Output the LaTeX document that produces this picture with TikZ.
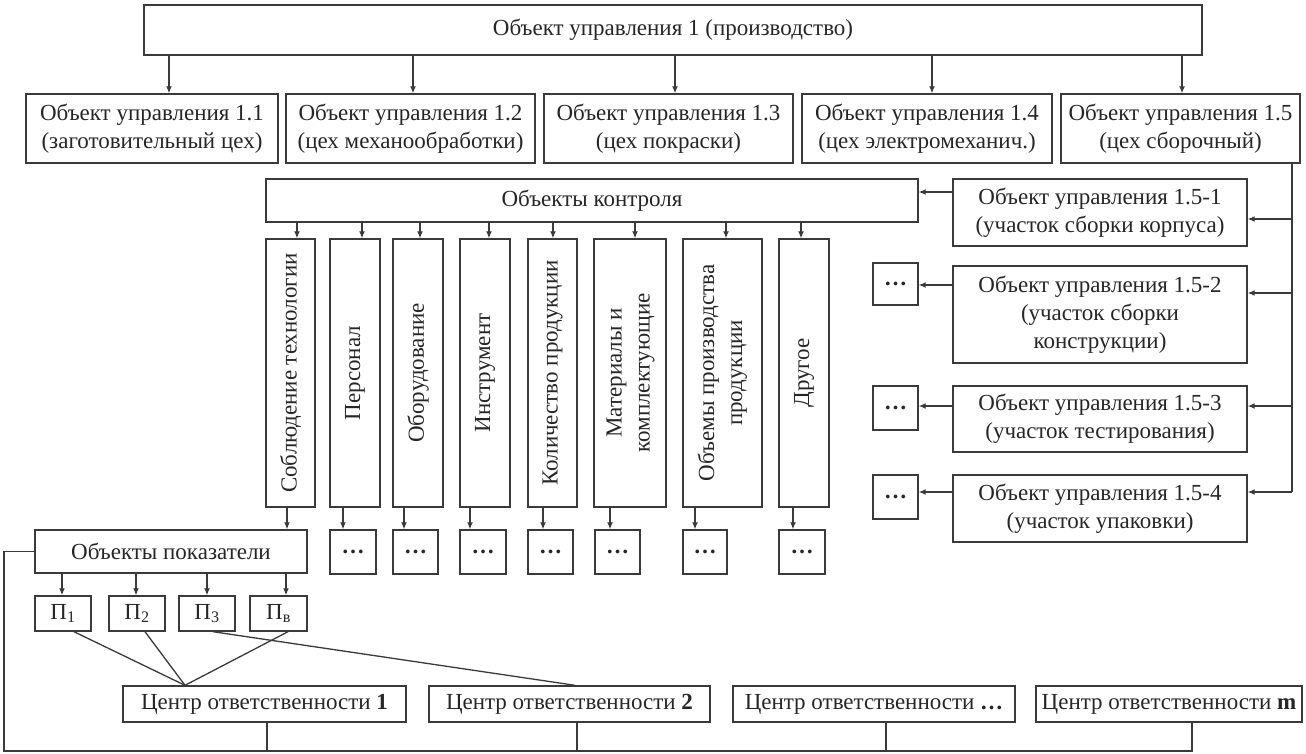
\documentclass[tikz,border=0pt]{standalone}
\usepackage{fontspec}
\setmainfont{Liberation Serif}
\usetikzlibrary{arrows.meta}
\definecolor{ink}{HTML}{3A3A3A}
\definecolor{txt}{HTML}{262626}
\begin{document}
\begin{tikzpicture}[x=1pt,y=-1pt,
  box/.style={draw=ink, line width=1.4pt, inner sep=0pt, align=center, text=txt,
    font=\fontsize{23}{28}\selectfont},
  arr/.style={draw=ink, line width=1.3pt, -{Latex[length=7pt,width=6pt]}},
  ln/.style={draw=ink, line width=1.3pt}]
\useasboundingbox (0,0) rectangle (1306,753);

% top level
\node[box, minimum width=1058pt, minimum height=50pt] (T) at (673,30) {Объект управления 1 (производство)};

% workshops
\node[box, minimum width=252pt, minimum height=69pt] (A1) at (152,128.5) {Объект управления 1.1\\(заготовительный цех)};
\node[box, minimum width=249pt, minimum height=69pt] (A2) at (410.5,128.5) {Объект управления 1.2\\(цех механообработки)};
\node[box, minimum width=249pt, minimum height=69pt] (A3) at (668.5,128.5) {Объект управления 1.3\\(цех покраски)};
\node[box, minimum width=250pt, minimum height=69pt] (A4) at (927,128.5) {Объект управления 1.4\\(цех электромеханич.)};
\node[box, minimum width=239pt, minimum height=69pt] (A5) at (1180.5,128.5) {Объект управления 1.5\\(цех сборочный)};

\draw[arr] ([xshift=17pt]A1.north |- T.south) -- ([xshift=17pt]A1.north);
\draw[arr] ([xshift=2.5pt]A2.north |- T.south) -- ([xshift=2.5pt]A2.north);
\draw[arr] ([xshift=6.5pt]A3.north |- T.south) -- ([xshift=6.5pt]A3.north);
\draw[arr] ([xshift=5pt]A4.north |- T.south) -- ([xshift=5pt]A4.north);
\draw[arr] ([xshift=1.5pt]A5.north |- T.south) -- ([xshift=1.5pt]A5.north);

% objects of control
\node[box, minimum width=652pt, minimum height=43pt] (K) at (592,200.5) {Объекты контроля};

\node[box, minimum width=49pt, minimum height=268pt] (C1) at (290.5,373) {\rotatebox{90}{Соблюдение технологии}};
\node[box, minimum width=50pt, minimum height=268pt] (C2) at (355,373) {\rotatebox{90}{Персонал}};
\node[box, minimum width=50pt, minimum height=268pt] (C3) at (418,373) {\rotatebox{90}{Оборудование}};
\node[box, minimum width=50pt, minimum height=268pt] (C4) at (485,373) {\rotatebox{90}{Инструмент}};
\node[box, minimum width=49pt, minimum height=268pt] (C5) at (552.5,373) {\rotatebox{90}{Количество продукции}};
\node[box, minimum width=72pt, minimum height=268pt] (C6) at (630,373) {\rotatebox{90}{\begin{tabular}{@{}c@{}}Материалы и\\комплектующие\end{tabular}}};
\node[box, minimum width=79pt, minimum height=268pt] (C7) at (722.5,373) {\rotatebox{90}{\begin{tabular}{@{}c@{}}Объемы производства\\продукции\end{tabular}}};
\node[box, minimum width=50pt, minimum height=268pt] (C8) at (804,373) {\rotatebox{90}{Другое}};

\foreach \c/\d in {C1/6.5, C2/7, C3/2, C4/4, C5/0.5, C6/5, C7/3.5, C8/-3}
  \draw[arr] ([xshift=\d pt]\c.north |- K.south) -- ([xshift=\d pt]\c.north);

% placeholders under the columns
\node[box, minimum width=46pt, minimum height=44pt] (D2) at (353,552) {\textbf{…}};
\node[box, minimum width=45pt, minimum height=44pt] (D3) at (415.5,552) {\textbf{…}};
\node[box, minimum width=46pt, minimum height=44pt] (D4) at (483,552) {\textbf{…}};
\node[box, minimum width=45pt, minimum height=44pt] (D5) at (550.5,552) {\textbf{…}};
\node[box, minimum width=45pt, minimum height=44pt] (D6) at (617.5,552) {\textbf{…}};
\node[box, minimum width=44pt, minimum height=44pt] (D7) at (705,552) {\textbf{…}};
\node[box, minimum width=46pt, minimum height=44pt] (D8) at (802,552) {\textbf{…}};

\foreach \c/\b/\d in {C2/D2/-12, C3/D3/-14, C4/D4/-15, C5/D5/-9.5, C6/D6/-20, C7/D7/-27.5, C8/D8/-11}
  \draw[arr] ([xshift=\d pt]\c.south) -- ([xshift=\d pt]\c.south |- \b.north);

% indicators
\node[box, minimum width=272pt, minimum height=43pt] (P) at (171,551.5) {Объекты показатели};
\draw[arr] ([xshift=-3.5pt]C1.south) -- ([xshift=-3.5pt]C1.south |- P.north);

\node[box, minimum width=56pt, minimum height=35pt] (P1) at (63,613.5) {П\textsubscript{1}};
\node[box, minimum width=56pt, minimum height=35pt] (P2) at (137,613.5) {П\textsubscript{2}};
\node[box, minimum width=56pt, minimum height=35pt] (P3) at (207,613.5) {П\textsubscript{3}};
\node[box, minimum width=57pt, minimum height=35pt] (P4) at (278.5,613.5) {П\textsubscript{в}};

\foreach \q/\d in {P1/-1, P2/-1, P3/0, P4/7.5}
  \draw[arr] ([xshift=\d pt]\q.north |- P.south) -- ([xshift=\d pt]\q.north);

% responsibility centres
\node[box, minimum width=283pt, minimum height=36pt] (R1) at (264.5,704) {Центр ответственности \textbf{1}};
\node[box, minimum width=281pt, minimum height=36pt] (R2) at (569.5,704) {Центр ответственности \textbf{2}};
\node[box, minimum width=282pt, minimum height=36pt] (R3) at (874,704) {Центр ответственности \textbf{…}};
\node[box, minimum width=266pt, minimum height=36pt] (R4) at (1169,704) {Центр ответственности \textbf{m}};

\draw[ln] ([xshift=11pt]P1.south) -- ([xshift=-79.5pt]R1.north);
\draw[ln] ([xshift=8pt]P2.south) -- ([xshift=-79.5pt]R1.north);
\draw[ln] ([xshift=9.5pt]P4.south) -- ([xshift=-79.5pt]R1.north);
\draw[ln] ([xshift=6pt]P3.south) -- ([xshift=5.5pt]R2.north);

% feedback bus along the bottom
\coordinate (cornerL) at (4,751);
\draw[ln] (P.west) -| (cornerL) -| ([xshift=23pt]R4.south);
\draw[ln] ([xshift=2.5pt]R1.south) -- ([xshift=2.5pt]R1.south |- cornerL);
\draw[ln] ([xshift=7.5pt]R2.south) -- ([xshift=7.5pt]R2.south |- cornerL);
\draw[ln] ([xshift=12pt]R3.south) -- ([xshift=12pt]R3.south |- cornerL);

% sections of the assembly workshop
\node[box, minimum width=294pt, minimum height=67pt] (E1) at (1100,212.5) {Объект управления 1.5-1\\(участок сборки корпуса)};
\node[box, minimum width=294pt, minimum height=97pt] (E2) at (1100,314.5) {Объект управления 1.5-2\\(участок сборки\\конструкции)};
\node[box, minimum width=294pt, minimum height=66pt] (E3) at (1100,419) {Объект управления 1.5-3\\(участок тестирования)};
\node[box, minimum width=294pt, minimum height=67pt] (E4) at (1100,508.5) {Объект управления 1.5-4\\(участок упаковки)};

\node[box, minimum width=45pt, minimum height=42pt] (F2) at (895.5,284) {\textbf{…}};
\node[box, minimum width=45pt, minimum height=44pt] (F3) at (895.5,408) {\textbf{…}};
\node[box, minimum width=45pt, minimum height=44pt] (F4) at (895.5,497) {\textbf{…}};

\coordinate (busEnd) at (1292,492);
\draw[ln] (A5.south -| busEnd) -- (busEnd);
\draw[arr] ([yshift=-6.5pt]E1.east -| busEnd) -- ([yshift=-6.5pt]E1.east);
\draw[arr] ([yshift=21.5pt]E2.east -| busEnd) -- ([yshift=21.5pt]E2.east);
\draw[arr] ([yshift=13pt]E3.east -| busEnd) -- ([yshift=13pt]E3.east);
\draw[arr] ([yshift=16.5pt]E4.east -| busEnd) -- ([yshift=16.5pt]E4.east);

\draw[arr] ([yshift=20.5pt]E1.west) -- ([yshift=20.5pt]E1.west -| K.east);
\draw[arr] ([yshift=29.5pt]E2.west) -- ([yshift=29.5pt]E2.west -| F2.east);
\draw[arr] ([yshift=13pt]E3.west) -- ([yshift=13pt]E3.west -| F3.east);
\draw[arr] ([yshift=16.5pt]E4.west) -- ([yshift=16.5pt]E4.west -| F4.east);
\end{tikzpicture}
\end{document}
